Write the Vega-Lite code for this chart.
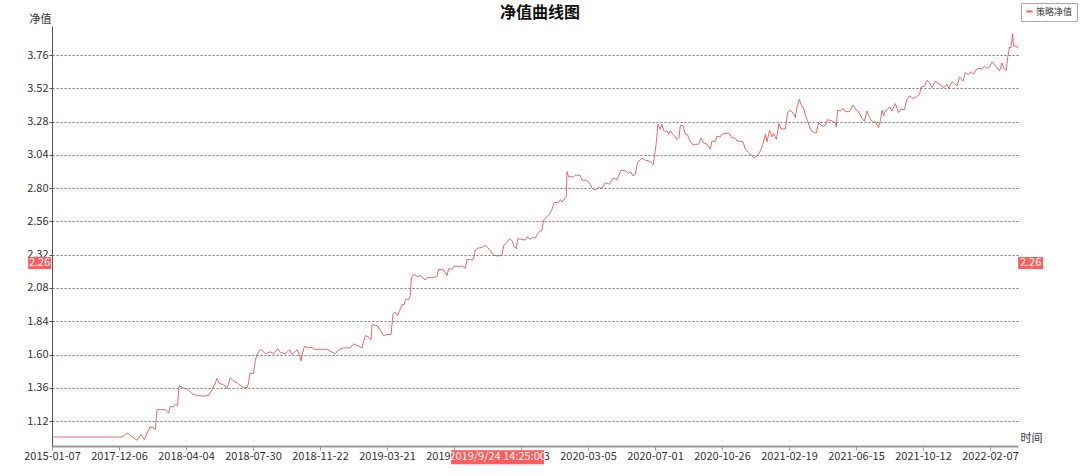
{
  "$schema": "https://vega.github.io/schema/vega-lite/v6.json",
  "width": 966,
  "height": 420,
  "autosize": {"type": "none"},
  "padding": {"left": 52, "top": 26, "right": 62, "bottom": 30},
  "background": "white",
  "config": {
    "font": "Noto Sans CJK SC",
    "view": {"stroke": null},
    "axis": {"labelFont": "Noto Sans CJK SC", "titleFont": "Noto Sans CJK SC", "labelColor": "#333", "titleColor": "#333", "labelFontSize": 11, "titleFontSize": 11, "titleFontWeight": "normal"}
  },
  "title": {"text": "净值曲线图", "fontSize": 16, "fontWeight": "bold", "font": "Noto Sans CJK SC", "color": "#111", "anchor": "middle", "offset": -18, "dx": 5},
  "datasets": {
    "nav": [
      {"i":0,"v":1.005},{"i":70,"v":1.005},{"i":75,"v":1.034},{"i":78.3,"v":1.017},{"i":81.6,"v":1.0},{"i":85,"v":0.981},{"i":89,"v":1.024},{"i":92.3,"v":0.986},{"i":95.6,"v":1.041},{"i":98.3,"v":1.077},{"i":101,"v":1.072},{"i":103.3,"v":1.058},{"i":105,"v":1.202},{"i":113.3,"v":1.202},{"i":116.6,"v":1.178},{"i":118.3,"v":1.226},{"i":121,"v":1.221},{"i":123.3,"v":1.24},{"i":125.6,"v":1.233},{"i":127,"v":1.375},{"i":131,"v":1.36},{"i":135.6,"v":1.35},{"i":141,"v":1.312},{"i":146.6,"v":1.303},{"i":151.6,"v":1.3},{"i":156.6,"v":1.305},{"i":160,"v":1.346},{"i":163.3,"v":1.394},{"i":165,"v":1.427},{"i":167.6,"v":1.389},{"i":171.6,"v":1.384},{"i":175,"v":1.355},{"i":178.3,"v":1.432},{"i":181.6,"v":1.408},{"i":185.6,"v":1.394},{"i":190,"v":1.365},{"i":195,"v":1.36},{"i":196.6,"v":1.394},{"i":197.6,"v":1.461},{"i":201.6,"v":1.466},{"i":203.3,"v":1.557},{"i":205,"v":1.6},{"i":208.3,"v":1.638},{"i":211,"v":1.624},{"i":213.3,"v":1.605},{"i":218.3,"v":1.62},{"i":221.6,"v":1.605},{"i":225.6,"v":1.643},{"i":228.3,"v":1.614},{"i":233.3,"v":1.605},{"i":237.6,"v":1.634},{"i":240,"v":1.6},{"i":245,"v":1.634},{"i":247.6,"v":1.6},{"i":249,"v":1.552},{"i":250.3,"v":1.6},{"i":252.3,"v":1.658},{"i":256.6,"v":1.648},{"i":260,"v":1.653},{"i":261.6,"v":1.638},{"i":275,"v":1.638},{"i":280,"v":1.617},{"i":283.3,"v":1.605},{"i":286.6,"v":1.634},{"i":291.6,"v":1.648},{"i":298.3,"v":1.648},{"i":301.6,"v":1.677},{"i":305,"v":1.667},{"i":310,"v":1.648},{"i":313.3,"v":1.737},{"i":316.6,"v":1.725},{"i":319,"v":1.706},{"i":320,"v":1.816},{"i":325.6,"v":1.807},{"i":328.3,"v":1.773},{"i":331.6,"v":1.737},{"i":335,"v":1.744},{"i":339,"v":1.744},{"i":341,"v":1.893},{"i":343.3,"v":1.905},{"i":345.6,"v":1.881},{"i":348.3,"v":1.929},{"i":350,"v":1.96},{"i":352.3,"v":1.96},{"i":353.3,"v":1.998},{"i":356.6,"v":1.998},{"i":358.3,"v":2.023},{"i":359.3,"v":2.152},{"i":362.3,"v":2.181},{"i":365,"v":2.162},{"i":368.3,"v":2.169},{"i":373.3,"v":2.138},{"i":375.6,"v":2.157},{"i":381.6,"v":2.157},{"i":385,"v":2.162},{"i":386.6,"v":2.214},{"i":391.6,"v":2.21},{"i":395,"v":2.169},{"i":396.6,"v":2.219},{"i":400,"v":2.214},{"i":402.3,"v":2.239},{"i":406.6,"v":2.234},{"i":410,"v":2.239},{"i":413.3,"v":2.222},{"i":415,"v":2.286},{"i":420,"v":2.282},{"i":421.6,"v":2.291},{"i":423.3,"v":2.354},{"i":426.6,"v":2.368},{"i":430,"v":2.373},{"i":432.3,"v":2.387},{"i":435,"v":2.378},{"i":438.3,"v":2.349},{"i":441,"v":2.32},{"i":445,"v":2.311},{"i":450,"v":2.315},{"i":451.6,"v":2.383},{"i":455,"v":2.412},{"i":457.6,"v":2.435},{"i":460,"v":2.421},{"i":462.3,"v":2.378},{"i":464.3,"v":2.363},{"i":465.6,"v":2.435},{"i":470,"v":2.43},{"i":473.3,"v":2.426},{"i":475.6,"v":2.45},{"i":478.3,"v":2.43},{"i":481,"v":2.445},{"i":483.3,"v":2.44},{"i":485.6,"v":2.469},{"i":487.6,"v":2.488},{"i":490,"v":2.498},{"i":491.6,"v":2.57},{"i":495,"v":2.594},{"i":497.6,"v":2.613},{"i":500,"v":2.649},{"i":502.3,"v":2.697},{"i":506.6,"v":2.695},{"i":508.3,"v":2.718},{"i":510,"v":2.7},{"i":512.3,"v":2.721},{"i":514.3,"v":2.738},{"i":515,"v":2.92},{"i":516.6,"v":2.882},{"i":521.6,"v":2.882},{"i":523.3,"v":2.896},{"i":528.3,"v":2.891},{"i":530,"v":2.858},{"i":535,"v":2.858},{"i":538.3,"v":2.829},{"i":540,"v":2.8},{"i":543.3,"v":2.786},{"i":546.6,"v":2.805},{"i":550,"v":2.8},{"i":553.3,"v":2.839},{"i":557.6,"v":2.829},{"i":561,"v":2.872},{"i":565,"v":2.862},{"i":569,"v":2.93},{"i":573.3,"v":2.925},{"i":576.6,"v":2.906},{"i":578.3,"v":2.92},{"i":581,"v":2.889},{"i":583.3,"v":2.901},{"i":585.6,"v":2.985},{"i":590,"v":3.016},{"i":593.3,"v":3.002},{"i":596.6,"v":2.997},{"i":599,"v":2.988},{"i":601,"v":2.968},{"i":602.3,"v":3.016},{"i":604.3,"v":3.129},{"i":606,"v":3.261},{"i":608.3,"v":3.225},{"i":610,"v":3.261},{"i":611.6,"v":3.213},{"i":615.6,"v":3.208},{"i":616.6,"v":3.189},{"i":618.3,"v":3.213},{"i":621,"v":3.189},{"i":623.3,"v":3.17},{"i":625,"v":3.15},{"i":627,"v":3.165},{"i":628.3,"v":3.251},{"i":631,"v":3.251},{"i":633.3,"v":3.189},{"i":635.6,"v":3.184},{"i":637.6,"v":3.146},{"i":641,"v":3.112},{"i":643.3,"v":3.117},{"i":646.6,"v":3.117},{"i":649,"v":3.16},{"i":651.6,"v":3.126},{"i":655,"v":3.117},{"i":658.3,"v":3.081},{"i":660,"v":3.141},{"i":663.3,"v":3.136},{"i":665,"v":3.175},{"i":668.3,"v":3.17},{"i":670,"v":3.189},{"i":676.6,"v":3.199},{"i":680,"v":3.165},{"i":683.3,"v":3.16},{"i":685,"v":3.141},{"i":691,"v":3.136},{"i":693.3,"v":3.081},{"i":696.6,"v":3.059},{"i":700,"v":3.035},{"i":701.6,"v":3.021},{"i":705,"v":3.031},{"i":708.3,"v":3.069},{"i":711,"v":3.117},{"i":713.3,"v":3.189},{"i":715,"v":3.136},{"i":717.6,"v":3.218},{"i":720,"v":3.17},{"i":721.6,"v":3.194},{"i":724.3,"v":3.153},{"i":727,"v":3.266},{"i":729,"v":3.227},{"i":733.3,"v":3.227},{"i":735.6,"v":3.345},{"i":738.3,"v":3.362},{"i":741,"v":3.343},{"i":743.3,"v":3.309},{"i":745,"v":3.386},{"i":747.3,"v":3.441},{"i":749,"v":3.405},{"i":751.6,"v":3.376},{"i":754.3,"v":3.309},{"i":756.6,"v":3.261},{"i":759,"v":3.218},{"i":762.3,"v":3.201},{"i":764.3,"v":3.199},{"i":766.6,"v":3.273},{"i":770,"v":3.249},{"i":773.3,"v":3.249},{"i":775.6,"v":3.294},{"i":780,"v":3.285},{"i":783.3,"v":3.273},{"i":784.3,"v":3.242},{"i":785.6,"v":3.362},{"i":788.3,"v":3.357},{"i":791,"v":3.376},{"i":793.3,"v":3.352},{"i":797.6,"v":3.352},{"i":801,"v":3.4},{"i":804.3,"v":3.362},{"i":806.6,"v":3.352},{"i":810,"v":3.304},{"i":812.3,"v":3.285},{"i":815,"v":3.357},{"i":817.6,"v":3.309},{"i":821,"v":3.273},{"i":823.3,"v":3.28},{"i":826.6,"v":3.237},{"i":828.3,"v":3.285},{"i":830,"v":3.362},{"i":831.6,"v":3.321},{"i":833.3,"v":3.357},{"i":835.6,"v":3.369},{"i":837.6,"v":3.386},{"i":840,"v":3.357},{"i":843.3,"v":3.41},{"i":846.6,"v":3.345},{"i":849,"v":3.371},{"i":852.3,"v":3.366},{"i":855,"v":3.441},{"i":857.6,"v":3.465},{"i":861,"v":3.448},{"i":864.3,"v":3.458},{"i":867.6,"v":3.477},{"i":869,"v":3.53},{"i":872.3,"v":3.534},{"i":875,"v":3.578},{"i":877.6,"v":3.561},{"i":880,"v":3.525},{"i":883.3,"v":3.573},{"i":885.6,"v":3.554},{"i":888.3,"v":3.549},{"i":891.6,"v":3.525},{"i":895,"v":3.549},{"i":896.6,"v":3.52},{"i":900,"v":3.568},{"i":903.3,"v":3.549},{"i":905,"v":3.537},{"i":907.6,"v":3.602},{"i":911,"v":3.573},{"i":913.3,"v":3.633},{"i":916.6,"v":3.621},{"i":919,"v":3.64},{"i":921.6,"v":3.621},{"i":924.3,"v":3.657},{"i":926.6,"v":3.664},{"i":930,"v":3.659},{"i":932.3,"v":3.681},{"i":935,"v":3.664},{"i":937.6,"v":3.674},{"i":940,"v":3.712},{"i":942.3,"v":3.693},{"i":945,"v":3.669},{"i":947.6,"v":3.645},{"i":950,"v":3.703},{"i":952.3,"v":3.657},{"i":954.3,"v":3.65},{"i":955.6,"v":3.741},{"i":957.6,"v":3.818},{"i":959,"v":3.813},{"i":960.6,"v":3.914},{"i":961.6,"v":3.825},{"i":964.3,"v":3.825},{"i":966,"v":3.809}
    ],
    "cursor": [{"i": 445.6, "v": 2.26, "time": "2019/9/24 14:25:00", "value": "2.26"}]
  },
  "layer": [
    {
      "data": {"name": "nav"},
      "mark": {"type": "line", "strokeWidth": 1, "opacity": 0.85, "interpolate": "linear"},
      "encoding": {
        "x": {"field": "i", "type": "quantitative",
          "scale": {"domain": [0, 966], "nice": false, "zero": false},
          "axis": {
            "values": [0, 67, 134, 201, 268, 335, 402, 469, 536, 603, 670, 737, 804, 871, 938], "tickCount": 30,
            "labelExpr": "['2015-01-07','2017-12-06','2018-04-04','2018-07-30','2018-11-22','2019-03-21','2019-07-17','2019-11-13','2020-03-05','2020-07-01','2020-10-26','2021-02-19','2021-06-15','2021-10-12','2022-02-07'][round(datum.value/67)]",
            "grid": false, "domainColor": "#999", "domainWidth": 2, "tickColor": "#999", "tickSize": 4, "labelPadding": 0, "labelFlush": false, "labelOverlap": false,
            "title": "时间", "titleX": 968, "titleY": -3, "titleAlign": "left", "titleBaseline": "bottom", "titleFontSize": 11
          }
        },
        "y": {"field": "v", "type": "quantitative",
          "scale": {"domain": [0.94, 3.97], "nice": false, "zero": false},
          "axis": {
            "values": [1.12, 1.36, 1.6, 1.84, 2.08, 2.32, 2.56, 2.8, 3.04, 3.28, 3.52, 3.76], "tickCount": 30,
            "format": ".2f", "grid": true, "gridDash": [2, 2], "gridColor": "#777", "gridWidth": 1, "labelOverlap": false, "labelFlush": false,
            "domainColor": "#555", "tickColor": "#555", "tickSize": 3, "labelPadding": 1,
            "title": "净值", "titleAngle": 0, "titleX": -12, "titleY": -2, "titleAlign": "center", "titleBaseline": "bottom", "titleFontSize": 11
          }
        },
        "color": {"datum": "策略净值", "scale": {"range": ["#e05050"]},
          "legend": {"title": null, "orient": "none", "legendX": 969, "legendY": -23, "strokeColor": "#aaa", "padding": 4, "symbolType": "stroke", "symbolStrokeWidth": 2, "symbolSize": 40, "labelOffset": 2, "labelFontSize": 9, "labelColor": "#333", "labelFont": "Noto Sans CJK SC", "fillColor": "white"}
        }
      }
    },
    {
      "data": {"name": "cursor"},
      "mark": {"type": "rect", "width": 23, "height": 12, "color": "#ff5c5c", "clip": false},
      "encoding": {"x": {"datum": -12.4, "type": "quantitative"}, "y": {"field": "v", "type": "quantitative"}}
    },
    {
      "data": {"name": "cursor"},
      "mark": {"type": "text", "color": "white", "fontSize": 11, "align": "center", "baseline": "middle", "font": "Noto Sans CJK SC", "clip": false},
      "encoding": {"x": {"datum": -12.4, "type": "quantitative"}, "y": {"field": "v", "type": "quantitative"}, "text": {"field": "value"}}
    },
    {
      "data": {"name": "cursor"},
      "mark": {"type": "rect", "width": 25, "height": 12, "color": "#ff5c5c", "clip": false},
      "encoding": {"x": {"datum": 978.6, "type": "quantitative"}, "y": {"field": "v", "type": "quantitative"}}
    },
    {
      "data": {"name": "cursor"},
      "mark": {"type": "text", "color": "white", "fontSize": 11, "align": "center", "baseline": "middle", "font": "Noto Sans CJK SC", "clip": false},
      "encoding": {"x": {"datum": 978.6, "type": "quantitative"}, "y": {"field": "v", "type": "quantitative"}, "text": {"field": "value"}}
    },
    {
      "data": {"name": "cursor"},
      "mark": {"type": "rect", "width": 93, "height": 14, "color": "#ff5c5c", "clip": false},
      "encoding": {"x": {"field": "i", "type": "quantitative"}, "y": {"datum": 0.859, "type": "quantitative"}}
    },
    {
      "data": {"name": "cursor"},
      "mark": {"type": "text", "color": "white", "fontSize": 11, "align": "center", "baseline": "middle", "font": "Noto Sans CJK SC", "clip": false},
      "encoding": {"x": {"field": "i", "type": "quantitative"}, "y": {"datum": 0.859, "type": "quantitative"}, "text": {"field": "time"}}
    }
  ]
}
